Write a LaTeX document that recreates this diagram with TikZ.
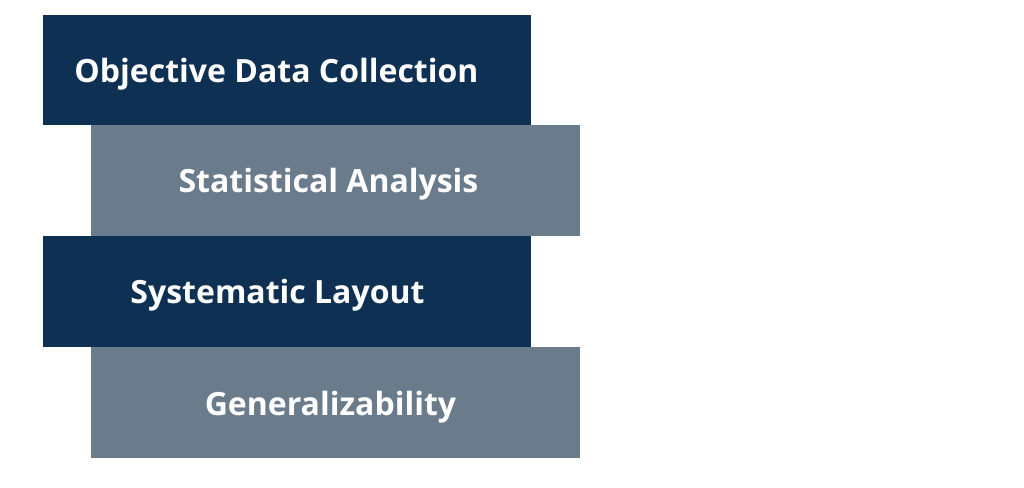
\documentclass[tikz,border=0pt]{standalone}
\usepackage{fontspec}
\setmainfont{Open Sans}
\definecolor{navy}{HTML}{0E3153}
\definecolor{slate}{HTML}{6A7B8C}
\begin{document}
\begin{tikzpicture}[x=1pt,y=1pt,
  band/.style={inner sep=0pt, outer sep=0pt, draw=none},
  lbl/.style={text=white, font=\fontsize{32}{38}\selectfont\bfseries, anchor=base, inner sep=0pt}]
\useasboundingbox[fill=white] (0,0) rectangle (1024,487);
\fill[navy] (43,487-125) rectangle (531,487-15);
\fill[slate] (91,487-236) rectangle (580,487-125);
\fill[navy] (43,487-347) rectangle (531,487-236);
\fill[slate] (91,487-458) rectangle (580,487-347);
\node[lbl] (t1) at (276.5,487-83) {Objective Data Collection};
\node[lbl] (t2) at (328.5,487-193) {Statistical Analysis};
\node[lbl] (t3) at (277.5,487-304) {Systematic Layout};
\node[lbl] (t4) at (330.5,487-415) {Generalizability};
\end{tikzpicture}
\end{document}
